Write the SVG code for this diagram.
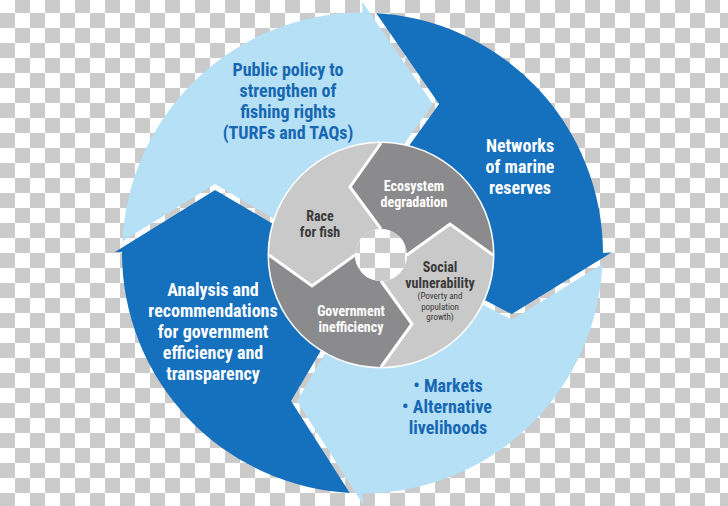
<svg xmlns="http://www.w3.org/2000/svg" width="728" height="506" viewBox="0 0 728 506">
<defs>
<pattern id="chk" patternUnits="userSpaceOnUse" x="0" y="-2" width="30" height="30">
<rect width="30" height="30" fill="#ffffff"/>
<rect x="15" y="0" width="15" height="15" fill="#cbcbcb"/>
<rect x="0" y="15" width="15" height="15" fill="#cbcbcb"/>
</pattern>
</defs>
<style>
.lb{fill:#b5e0f5}
.db{fill:#1570be}
.lg{fill:#c9c9c9}
.dg{fill:#8b8b8d}
text{font-family:"Liberation Sans Narrow","Roboto Condensed","DejaVu Sans Condensed","Liberation Sans",sans-serif;font-stretch:condensed;font-weight:bold;text-anchor:middle}
.big{font-size:18px}
.tb{fill:#1767b2}
.tw{fill:#ffffff}
.tg{fill:#3a3a3a}
.mid{font-size:14px}
.sm{font-size:9px;font-weight:normal}
.gap{fill:none;stroke:url(#chk);stroke-width:5;stroke-linejoin:miter}
.wsep{fill:none;stroke:#ffffff;stroke-width:3;stroke-linejoin:miter}
</style>
<rect width="728" height="506" fill="url(#chk)"/>

<g id="public-policy">
<path class="lb" d="M122.3,244.3 A240.5,240.5 0 0 1 362.5,12.5 L362,-3 L436,104 L390,168 L381,255 L295,234 L215,187 Z"/>
<text class="big tb" x="288" y="76">Public policy to</text>
<text class="big tb" x="288" y="97">strengthen of</text>
<text class="big tb" x="288" y="118">fishing rights</text>
<text class="big tb" x="288" y="139">(TURFs and TAQs)</text>
</g>

<g id="marine-reserves">
<path class="db" d="M373,13 A240.5,240.5 0 0 1 603,253 L617,252 L512,317 L460,290 L381,255 L390,168 L436,104 Z"/>
<text class="big tw" x="520" y="152">Networks</text>
<text class="big tw" x="520" y="173">of marine</text>
<text class="big tw" x="520" y="194">reserves</text>
</g>

<g id="markets">
<path class="lb" d="M602.5,261 A240.5,240.5 0 0 1 362.5,493.5 L363,509 L294,401 L333,335 L381,255 L460,290 L512,317 Z"/>
<text class="big tb" x="448" y="392">• Markets</text>
<text class="big tb" x="447" y="413">• Alternative</text>
<text class="big tb" x="448" y="434">livelihoods</text>
</g>

<g id="analysis">
<path class="db" d="M352.5,493 A240.5,240.5 0 0 1 122,252 L110,252 L215,187 L295,234 L381,255 L333,335 L294,401 Z"/>
<text class="big tw" x="213" y="296">Analysis and</text>
<text class="big tw" x="213" y="317">recommendations</text>
<text class="big tw" x="213" y="338">for government</text>
<text class="big tw" x="213" y="359">efficiency and</text>
<text class="big tw" x="213" y="380">transparency</text>
</g>

<g id="ring-gaps">
<polyline class="gap" points="362,-3 436,104 390,168"/>
<polyline class="gap" points="617,252 512,317 460,290"/>
<polyline class="gap" points="363,509 294,401 333,335"/>
<polyline class="gap" points="110,252 215,187 295,234"/>
</g>

<circle cx="381" cy="255" r="113.5" fill="#ffffff"/>

<g id="ecosystem-degradation">
<path class="dg" d="M493,255 A112,112 0 0 0 381,143 L350,187 L381,229 A26,26 0 0 1 407,255 L450,224 Z"/>
<text class="mid tw" x="414" y="191">Ecosystem</text>
<text class="mid tw" x="414" y="207">degradation</text>
</g>

<g id="race-for-fish">
<path class="lg" d="M381,143 A112,112 0 0 0 269,255 L312,286 L355,255 A26,26 0 0 1 381,229 L350,187 Z"/>
<text class="mid tg" x="320" y="221">Race</text>
<text class="mid tg" x="320" y="237">for fish</text>
</g>

<g id="government-inefficiency">
<path class="dg" d="M269,255 A112,112 0 0 0 381,367 L412,324 L381,281 A26,26 0 0 1 355,255 L312,286 Z"/>
<text class="mid tw" x="351" y="316">Government</text>
<text class="mid tw" x="351" y="332">inefficiency</text>
</g>

<g id="social-vulnerability">
<path class="lg" d="M381,367 A112,112 0 0 0 493,255 L450,224 L407,255 A26,26 0 0 1 381,281 L412,324 Z"/>
<text class="mid tg" x="440" y="272">Social</text>
<text class="mid tg" x="440" y="288">vulnerability</text>
<text class="sm tg" x="440" y="299">(Poverty and</text>
<text class="sm tg" x="440" y="309.5">population</text>
<text class="sm tg" x="440" y="320">growth)</text>
</g>

<g id="inner-separators">
<polyline class="wsep" points="381,143 350,187 381,229"/>
<polyline class="wsep" points="269,255 312,286 355,255"/>
<polyline class="wsep" points="381,367 412,324 381,281"/>
<polyline class="wsep" points="493,255 450,224 407,255"/>
</g>

<circle id="hole" cx="381" cy="255" r="26" fill="url(#chk)"/>
</svg>
